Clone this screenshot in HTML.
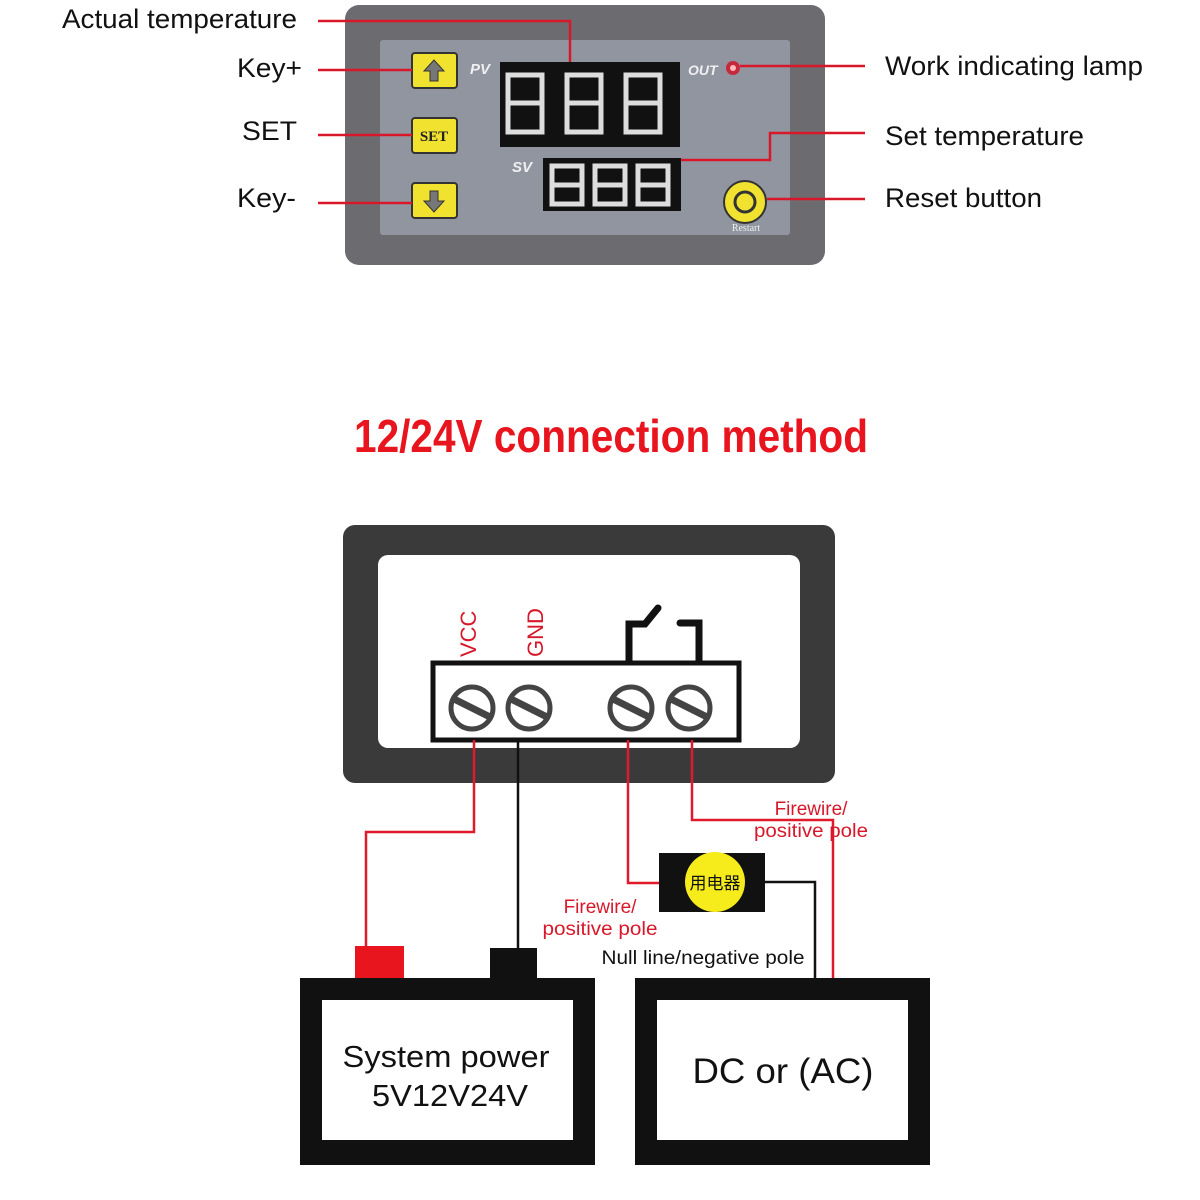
<!DOCTYPE html>
<html><head><meta charset="utf-8"><style>html,body{margin:0;padding:0;background:#fff}svg{display:block}</style></head><body>
<svg width="1200" height="1200" viewBox="0 0 1200 1200" font-family="Liberation Sans, sans-serif">
<rect width="1200" height="1200" fill="#fff"/>
<!-- top device -->
<rect x="345" y="5" width="480" height="260" rx="14" fill="#6c6c70"/>
<rect x="380" y="40" width="410" height="195" rx="3" fill="#9095a0"/>
<g fill="#f2e230" stroke="#333" stroke-width="2">
<rect x="412" y="53" width="45" height="35" rx="3"/>
<rect x="412" y="118" width="45" height="35" rx="3"/>
<rect x="412" y="183" width="45" height="35" rx="3"/>
</g>
<path d="M434 60 l-10 11 h6 v10 h8 v-10 h6z" fill="#777" stroke="#333"/>
<path d="M434 212 l-10 -11 h6 v-10 h8 v10 h6z" fill="#777" stroke="#333"/>
<text x="434" y="141" text-anchor="middle" font-family="Liberation Serif, serif" font-weight="bold" font-size="15" fill="#222">SET</text>
<text x="470" y="74" font-style="italic" font-weight="bold" font-size="15" fill="#f0f0f0">PV</text>
<text x="512" y="172" font-style="italic" font-weight="bold" font-size="15" fill="#f0f0f0">SV</text>
<text x="688" y="75" font-style="italic" font-weight="bold" font-size="14" fill="#f0f0f0">OUT</text>
<rect x="500" y="62" width="180" height="85" fill="#111"/>
<rect x="543" y="158" width="138" height="53" fill="#111"/>
<g fill="none" stroke="#ddd" stroke-width="5">
<path d="M508 75h34v57h-34z M508 103h34"/><path d="M567 75h34v57h-34z M567 103h34"/><path d="M626 75h34v57h-34z M626 103h34"/>
<path d="M552 166h30v38h-30z M552 185h30"/><path d="M595 166h30v38h-30z M595 185h30"/><path d="M638 166h30v38h-30z M638 185h30"/>
</g>
<circle cx="733" cy="68" r="7" fill="#c8283c"/><circle cx="733" cy="68" r="3" fill="#fbb"/>
<circle cx="745" cy="202" r="21" fill="#f2e230" stroke="#333" stroke-width="2"/>
<circle cx="745" cy="202" r="10" fill="none" stroke="#333" stroke-width="3"/>
<text x="746" y="231" text-anchor="middle" font-family="Liberation Serif, serif" font-size="10" fill="#eee">Restart</text>
<g stroke="#d8182a" stroke-width="2.5" fill="none">
<path d="M318 21H570V62"/><path d="M318 70H412"/><path d="M318 135H412"/><path d="M318 203H412"/>
<path d="M740 66H865"/><path d="M681 160H770V133H865"/><path d="M767 199H865"/>
</g>
<g font-size="27" fill="#111" lengthAdjust="spacingAndGlyphs">
<text x="62" y="28" textLength="235" lengthAdjust="spacingAndGlyphs">Actual temperature</text>
<text x="237" y="77" textLength="65" lengthAdjust="spacingAndGlyphs">Key+</text>
<text x="242" y="140" textLength="55" lengthAdjust="spacingAndGlyphs">SET</text>
<text x="237" y="207" textLength="59" lengthAdjust="spacingAndGlyphs">Key-</text>
<text x="885" y="75" textLength="258" lengthAdjust="spacingAndGlyphs">Work indicating lamp</text>
<text x="885" y="145" textLength="199" lengthAdjust="spacingAndGlyphs">Set temperature</text>
<text x="885" y="207" textLength="157" lengthAdjust="spacingAndGlyphs">Reset button</text>
</g>
<text x="611" y="452" text-anchor="middle" font-weight="bold" font-size="46" fill="#e8141e" textLength="514" lengthAdjust="spacingAndGlyphs">12/24V connection method</text>
<!-- bottom device -->
<rect x="343" y="525" width="492" height="258" rx="12" fill="#3a3a3a"/>
<rect x="378" y="555" width="422" height="193" rx="10" fill="#fff"/>
<rect x="433" y="663" width="306" height="77" fill="#fff" stroke="#111" stroke-width="5"/>
<g stroke="#111" stroke-width="7" fill="none" stroke-linecap="round">
<path d="M629 662V624H645L658 608"/><path d="M680 623H699V662"/>
</g>
<g>
<g transform="translate(472,708)"><circle r="21" fill="#fff" stroke="#444" stroke-width="5"/><path d="M-18 -9L18 9" stroke="#444" stroke-width="7"/></g>
<g transform="translate(529,708)"><circle r="21" fill="#fff" stroke="#444" stroke-width="5"/><path d="M-18 -9L18 9" stroke="#444" stroke-width="7"/></g>
<g transform="translate(631,708)"><circle r="21" fill="#fff" stroke="#444" stroke-width="5"/><path d="M-18 -9L18 9" stroke="#444" stroke-width="7"/></g>
<g transform="translate(689,708)"><circle r="21" fill="#fff" stroke="#444" stroke-width="5"/><path d="M-18 -9L18 9" stroke="#444" stroke-width="7"/></g>
</g>
<text transform="translate(476,657) rotate(-90)" font-size="22" fill="#d8182a">VCC</text>
<text transform="translate(543,657) rotate(-90)" font-size="22" fill="#d8182a">GND</text>
<!-- wires -->
<g fill="none" stroke-width="2.5">
<path d="M474 740V832H366V946" stroke="#e01a2a"/>
<path d="M518 740V950" stroke="#111"/>
<path d="M628 740V883H660" stroke="#e01a2a"/>
<path d="M692 740V820H833V978" stroke="#e01a2a"/>
<path d="M765 882H815V978" stroke="#111"/>
</g>
<rect x="659" y="853" width="106" height="59" fill="#111"/>
<circle cx="715" cy="882" r="30" fill="#f6ec1c"/>
<text x="715" y="889" text-anchor="middle" font-family="Liberation Sans, Noto Sans CJK SC, sans-serif" font-size="17" fill="#111">用电器</text>
<g font-size="19" fill="#d8182a" text-anchor="middle">
<text x="811" y="815">Firewire/</text><text x="811" y="837" textLength="114" lengthAdjust="spacingAndGlyphs">positive pole</text>
<text x="600" y="913">Firewire/</text><text x="600" y="935" textLength="115" lengthAdjust="spacingAndGlyphs">positive pole</text>
</g>
<text x="703" y="964" text-anchor="middle" font-size="19" fill="#111" textLength="203" lengthAdjust="spacingAndGlyphs">Null line/negative pole</text>
<rect x="355" y="946" width="49" height="32" fill="#e8141e"/>
<rect x="490" y="948" width="47" height="30" fill="#111"/>
<rect x="300" y="978" width="295" height="187" fill="#111"/>
<rect x="322" y="1000" width="251" height="140" fill="#fff"/>
<rect x="635" y="978" width="295" height="187" fill="#111"/>
<rect x="657" y="1000" width="251" height="140" fill="#fff"/>
<g font-size="31" fill="#111" text-anchor="middle">
<text x="446" y="1067" textLength="207" lengthAdjust="spacingAndGlyphs">System power</text>
<text x="450" y="1106" textLength="156" lengthAdjust="spacingAndGlyphs">5V12V24V</text>
<text x="783" y="1083" font-size="35" textLength="181" lengthAdjust="spacingAndGlyphs">DC or (AC)</text>
</g>
</svg>
</body></html>
